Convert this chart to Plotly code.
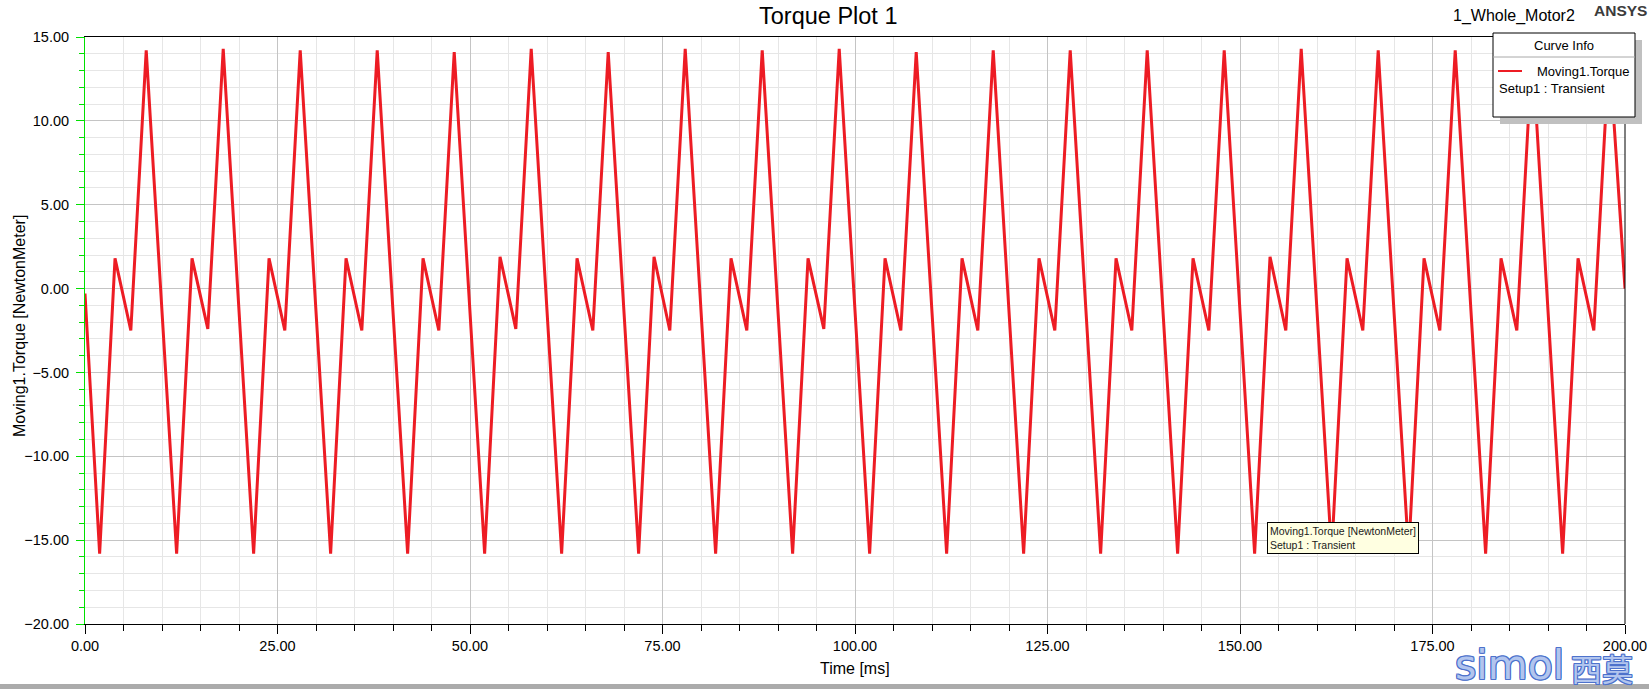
import plotly.graph_objects as go

# ---- data (time in ms, torque in N·m) ----
time_ms = [
    0.0,
    1.9, 3.9, 5.95, 7.95,
    11.9, 13.9, 15.95, 17.95,
    21.9, 23.9, 25.95, 27.95,
    31.9, 33.9, 35.95, 37.95,
    41.9, 43.9, 45.95, 47.95,
    51.9, 53.9, 55.95, 57.95,
    61.9, 63.9, 65.95, 67.95,
    71.9, 73.9, 75.95, 77.95,
    81.9, 83.9, 85.95, 87.95,
    91.9, 93.9, 95.95, 97.95,
    101.9, 103.9, 105.95, 107.95,
    111.9, 113.9, 115.95, 117.95,
    121.9, 123.9, 125.95, 127.95,
    131.9, 133.9, 135.95, 137.95,
    141.9, 143.9, 145.95, 147.95,
    151.9, 153.9, 155.95, 157.95,
    161.9, 163.9, 165.95, 167.95,
    171.9, 173.9, 175.95, 177.95,
    181.9, 183.9, 185.95, 187.95,
    191.9, 193.9, 195.95, 197.95,
    200.0,
]
torque_nm = [
    -0.3,
    -15.8, 1.8, -2.5, 14.2,
    -15.8, 1.8, -2.4, 14.3,
    -15.8, 1.8, -2.5, 14.2,
    -15.8, 1.8, -2.5, 14.2,
    -15.8, 1.8, -2.5, 14.1,
    -15.8, 1.9, -2.4, 14.3,
    -15.8, 1.8, -2.5, 14.1,
    -15.8, 1.9, -2.5, 14.3,
    -15.8, 1.8, -2.5, 14.2,
    -15.8, 1.8, -2.4, 14.3,
    -15.8, 1.8, -2.5, 14.1,
    -15.8, 1.8, -2.5, 14.2,
    -15.8, 1.8, -2.5, 14.2,
    -15.8, 1.8, -2.5, 14.2,
    -15.8, 1.8, -2.5, 14.2,
    -15.8, 1.9, -2.5, 14.3,
    -15.8, 1.8, -2.5, 14.2,
    -15.8, 1.8, -2.5, 14.2,
    -15.8, 1.8, -2.5, 14.3,
    -15.8, 1.8, -2.5, 14.2,
    0.0,
]
x_ticks = [0, 25, 50, 75, 100, 125, 150, 175, 200]
y_ticks = [-20, -15, -10, -5, 0, 5, 10, 15]

title_text = "Torque Plot 1"
design_name = "1_Whole_Motor2"
brand = "ANSYS"
trace_name = "Moving1.Torque"
setup_name = "Setup1 : Transient"
x_title = "Time [ms]"
y_title = "Moving1.Torque [NewtonMeter]"
tooltip_text = "Moving1.Torque [NewtonMeter]<br>Setup1 : Transient"

# ---- layout geometry (pixels) ----
W, H = 1649, 689
L, R, T, B = 85, 24, 37, 65
PW, PH = W - L - R, H - T - B


def px(x):
    return (x - L) / PW


def py(y):
    return (H - B - y) / PH


FONT = "Arial, 'Liberation Sans', sans-serif"
RED = "#ED1C24"
WM_FILL = "#b2c5ee"
WM_EDGE = "#4d72cc"
WM_SHADOW = ", ".join(f"{a}px {b}px 0 {WM_EDGE}" for a, b in
                      [(1, 0), (-1, 0), (0, 1), (0, -1), (1, 1), (-1, -1), (1, -1), (-1, 1)])

fig = go.Figure()
fig.add_trace(go.Scatter(
    x=time_ms, y=torque_nm, mode="lines", name=trace_name,
    line=dict(color=RED, width=3), showlegend=False, hoverinfo="skip",
))

fig.update_layout(
    width=W, height=H,
    margin=dict(l=L, r=R, t=T, b=B, pad=0, autoexpand=False),
    paper_bgcolor="white", plot_bgcolor="white",
    font=dict(family=FONT, color="black", size=14),
    hovermode=False,
    xaxis=dict(
        range=[0, 200], tickvals=x_ticks, tickformat=".2f",
        automargin=False,
        showgrid=True, gridcolor="#c4c4c4", gridwidth=1,
        zeroline=False,
        showline=True, linecolor="black", linewidth=1, mirror=True,
        ticks="outside", ticklen=9, tickcolor="black", tickwidth=1,
        tickfont=dict(size=14.5, family=FONT),
        minor=dict(dtick=5, showgrid=True, gridcolor="#e6e6e6",
                   ticks="outside", ticklen=6, tickcolor="black"),
    ),
    yaxis=dict(
        range=[-20, 15], tickvals=y_ticks, tickformat=".2f",
        automargin=False,
        showgrid=True, gridcolor="#c4c4c4", gridwidth=1,
        zeroline=False,
        showline=True, linecolor="#00E000", linewidth=1,
        ticks="outside", ticklen=8, tickcolor="#00E000", tickwidth=1,
        ticklabelstandoff=4,
        tickfont=dict(size=14.5, family=FONT),
        minor=dict(dtick=1, showgrid=True, gridcolor="#e6e6e6",
                   ticks="outside", ticklen=5, tickcolor="#00E000"),
    ),
)

shapes = []
# right border of plot area
shapes.append(dict(type="line", xref="paper", yref="paper", x0=1, x1=1, y0=0, y1=1,
                   line=dict(color="black", width=1)))
# legend ("Curve Info") box with shadow
shapes.append(dict(type="rect", xref="paper", yref="paper",
                   x0=px(1500), x1=px(1642), y0=py(124), y1=py(40),
                   fillcolor="#c0c0c0", line=dict(width=0), layer="above"))
shapes.append(dict(type="rect", xref="paper", yref="paper",
                   x0=px(1493), x1=px(1635), y0=py(117), y1=py(33),
                   fillcolor="white", line=dict(color="black", width=1), layer="above"))
shapes.append(dict(type="line", xref="paper", yref="paper",
                   x0=px(1493), x1=px(1635), y0=py(57), y1=py(57),
                   line=dict(color="#a8a8a8", width=1), layer="above"))
shapes.append(dict(type="line", xref="paper", yref="paper",
                   x0=px(1498), x1=px(1522), y0=py(71), y1=py(71),
                   line=dict(color=RED, width=2), layer="above"))
# bottom window strip
shapes.append(dict(type="rect", xref="paper", yref="paper",
                   x0=px(0), x1=px(W), y0=py(H + 2), y1=py(684),
                   fillcolor="#ababab", line=dict(width=0), layer="above"))
fig.update_layout(shapes=shapes)

ann = []
ann.append(dict(text=title_text, x=px(828), y=py(16), xref="paper", yref="paper",
                showarrow=False, xanchor="center", yanchor="middle",
                font=dict(size=23.5, family=FONT, color="black")))
ann.append(dict(text=design_name, x=px(1451), y=py(16), xref="paper", yref="paper",
                showarrow=False, xanchor="left", yanchor="middle",
                font=dict(size=16, family=FONT, color="black")))
ann.append(dict(text="<b>" + brand + "</b>", x=px(1592), y=py(11), xref="paper", yref="paper",
                showarrow=False, xanchor="left", yanchor="middle",
                font=dict(size=15.5, family=FONT, color="#3c3c3c")))
# axis titles
ann.append(dict(text=x_title, x=px(855), y=py(668), xref="paper", yref="paper",
                showarrow=False, xanchor="center", yanchor="middle",
                font=dict(size=16, family=FONT, color="black")))
ann.append(dict(text=y_title, x=px(19), y=py(326), xref="paper", yref="paper",
                showarrow=False, xanchor="center", yanchor="middle", textangle=-90,
                font=dict(size=16, family=FONT, color="black")))
# legend texts
ann.append(dict(text="Curve Info", x=px(1564), y=py(45), xref="paper", yref="paper",
                showarrow=False, xanchor="center", yanchor="middle",
                font=dict(size=13, family=FONT, color="black")))
ann.append(dict(text=trace_name, x=px(1535), y=py(71), xref="paper", yref="paper",
                showarrow=False, xanchor="left", yanchor="middle",
                font=dict(size=13, family=FONT, color="black")))
ann.append(dict(text=setup_name, x=px(1497), y=py(89), xref="paper", yref="paper",
                showarrow=False, xanchor="left", yanchor="middle",
                font=dict(size=13, family=FONT, color="black")))
# tooltip box
ann.append(dict(text=tooltip_text, x=px(1267), y=py(522), xref="paper", yref="paper",
                showarrow=False, xanchor="left", yanchor="top", align="left",
                bgcolor="#FFFFE1", bordercolor="black", borderwidth=1, borderpad=2,
                font=dict(size=10.5, family=FONT, color="#1a1a1a")))
# watermark
ann.append(dict(text="simol", x=px(1453), y=py(665), xref="paper", yref="paper",
                showarrow=False, xanchor="left", yanchor="middle",
                font=dict(size=41, family="'DejaVu Sans', sans-serif", color=WM_FILL,
                          shadow=WM_SHADOW)))
ann.append(dict(text="西莫", x=px(1569), y=py(667), xref="paper", yref="paper",
                showarrow=False, xanchor="left", yanchor="middle",
                font=dict(size=31, family="'Noto Sans CJK SC', sans-serif", color=WM_FILL,
                          shadow=WM_SHADOW)))
fig.update_layout(annotations=ann)

fig.write_html(
    "out.html",
    config={"displayModeBar": False},
    post_script="document.body.style.margin='0';document.body.style.overflow='hidden';",
)
